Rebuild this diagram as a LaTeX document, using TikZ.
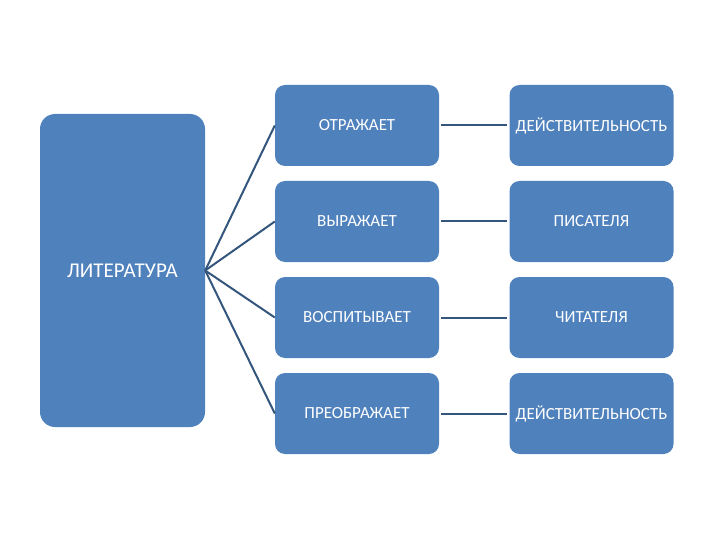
\documentclass[tikz,border=0pt]{standalone}
\usepackage{fontspec}
\setmainfont{Carlito}
\definecolor{boxblue}{HTML}{4F81BD}
\definecolor{linkblue}{HTML}{34557C}
\begin{document}
\begin{tikzpicture}[x=1pt,y=-1pt,
 box/.style={fill=boxblue,rounded corners=10pt,minimum width=164pt,minimum height=81pt,inner sep=0pt,text=white,font=\fontsize{17}{20}\selectfont},
 bigbox/.style={box,rounded corners=15pt,minimum width=165pt,minimum height=313pt,font=\fontsize{21}{25}\selectfont},
 link/.style={draw=linkblue,line width=2pt}]
 \path[use as bounding box](0,0) rectangle (720,540);
 \node[bigbox](lit) at (122.5,270.5){ЛИТЕРАТУРА};
 \node[box](otr) at (357,125.5){ОТРАЖАЕТ};
 \node[box](vyr) at (357,221.5){ВЫРАЖАЕТ};
 \node[box](vos) at (357,317.5){ВОСПИТЫВАЕТ};
 \node[box](pre) at (357,413.5){ПРЕОБРАЖАЕТ};
 \node[box](dey1) at (591.5,125.5){ДЕЙСТВИТЕЛЬНОСТЬ};
 \node[box](pis) at (591.5,221.5){ПИСАТЕЛЯ};
 \node[box](chi) at (591.5,317.5){ЧИТАТЕЛЯ};
 \node[box](dey2) at (591.5,413.5){ДЕЙСТВИТЕЛЬНОСТЬ};
 \draw[link](lit.east)--(otr.west);
 \draw[link](lit.east)--(vyr.west);
 \draw[link](lit.east)--(vos.west);
 \draw[link](lit.east)--(pre.west);
 \draw[link]([xshift=2pt]otr.east)--([xshift=-2pt]dey1.west);
 \draw[link]([xshift=2pt]vyr.east)--([xshift=-2pt]pis.west);
 \draw[link]([xshift=2pt]vos.east)--([xshift=-2pt]chi.west);
 \draw[link]([xshift=2pt]pre.east)--([xshift=-2pt]dey2.west);
\end{tikzpicture}
\end{document}
